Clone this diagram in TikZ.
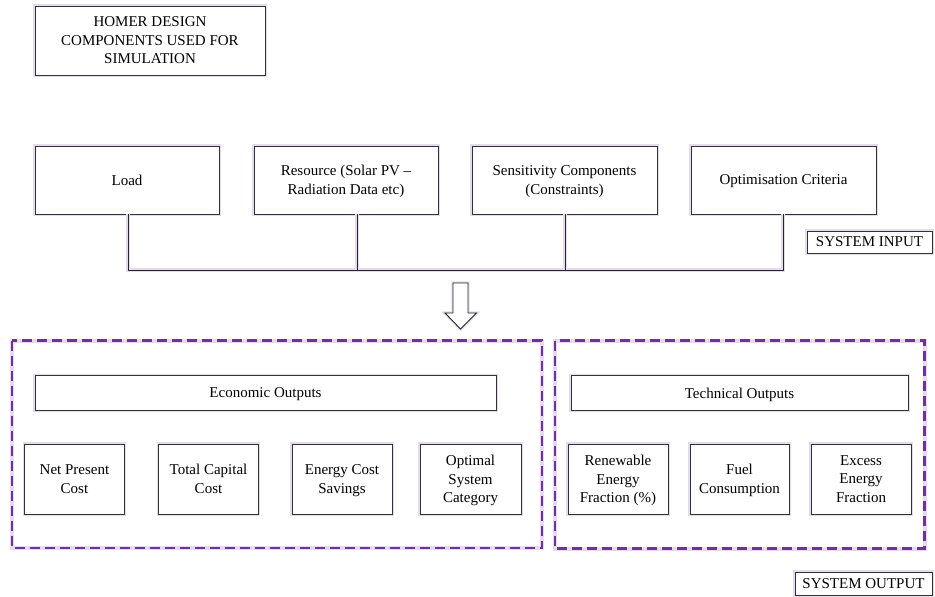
\documentclass[tikz,border=0pt]{standalone}
\usepackage{fontspec}
\setmainfont{Liberation Serif}
\definecolor{dpurple}{RGB}{112,48,160}
\definecolor{lglow}{RGB}{228,220,238}
\begin{document}
\begin{tikzpicture}[x=1pt,y=-1pt,
  glow/.style={preaction={draw=lglow,line width=3.2pt}},
  box/.style={draw=black!80,line width=0.9pt,fill=white,glow,align=center,inner sep=2pt,
    font=\fontsize{15}{18.5}\selectfont,text depth=0pt},
  conn/.style={draw=black!85,line width=0.9pt,glow},
  dbox/.style={draw=dpurple,line width=2.2pt,dash pattern=on 10pt off 5pt,
    preaction={draw=lglow,line width=4pt}}]
\useasboundingbox (0,0) rectangle (935,597);
\fill[white] (0,0) rectangle (935,597);
% header
\node[box,minimum width=230pt,minimum height=69pt] (homer) at (150,40.5) {\rmfamily HOMER DESIGN\\COMPONENTS USED FOR\\SIMULATION};
% inputs
\node[box,minimum width=184pt,minimum height=68pt] (load) at (127,180) {Load};
\node[box,minimum width=184pt,minimum height=68pt] (res) at (346,180) {Resource (Solar PV --\\Radiation Data etc)};
\node[box,minimum width=185pt,minimum height=68pt] (sens) at (564.5,180) {Sensitivity Components\\(Constraints)};
\node[box,minimum width=185pt,minimum height=68pt] (opt) at (783.5,180) {Optimisation Criteria};
\node[box,minimum width=125pt,minimum height=22pt,inner sep=0pt] (sin) at (869.5,242) {SYSTEM INPUT};
% connectors
\coordinate (j1) at (128,270);
\coordinate (j2) at (357,270);
\coordinate (j3) at (565,270);
\coordinate (j4) at (783,270);
\draw[conn] (load.south -| j1) -- (j1) -- (j4) -- (opt.south -| j4);
\draw[conn] (res.south -| j2) -- (j2);
\draw[conn] (sens.south -| j3) -- (j3);
% block arrow
\draw[draw=black!85,line width=0.9pt,fill=white,glow] (453,283) -- (468,283) -- (468,313) -- (476.5,313) -- (460.5,329) -- (445,313) -- (453,313) -- cycle;
% dashed groups
\draw[dbox] (12,340.5) rectangle (542,548);
\draw[dbox] (555,340.5) rectangle (924.5,548.5);
% economic
\node[box,minimum width=461pt,minimum height=35pt] (eco) at (265.5,393) {Economic Outputs};
\node[box,minimum width=100pt,minimum height=70pt] (npc) at (74.5,479) {Net Present\\Cost};
\node[box,minimum width=100pt,minimum height=70pt] (tcc) at (208.5,479) {Total Capital\\Cost};
\node[box,minimum width=100pt,minimum height=70pt] (ecs) at (342,479) {Energy Cost\\Savings};
\node[box,minimum width=101pt,minimum height=70pt] (osc) at (470.5,479) {Optimal\\System\\Category};
% technical
\node[box,minimum width=337pt,minimum height=35pt] (tech) at (739.5,393) {Technical Outputs};
\node[box,minimum width=100pt,minimum height=70pt] (ref) at (618,479) {Renewable\\Energy\\Fraction (\%)};
\node[box,minimum width=99pt,minimum height=70pt] (fuel) at (739.5,479) {Fuel\\Consumption};
\node[box,minimum width=100pt,minimum height=70pt] (eef) at (861,479) {Excess\\Energy\\Fraction};
\node[box,minimum width=137pt,minimum height=23pt,inner sep=0pt] (sout) at (863.5,583.5) {SYSTEM OUTPUT};
\end{tikzpicture}
\end{document}
